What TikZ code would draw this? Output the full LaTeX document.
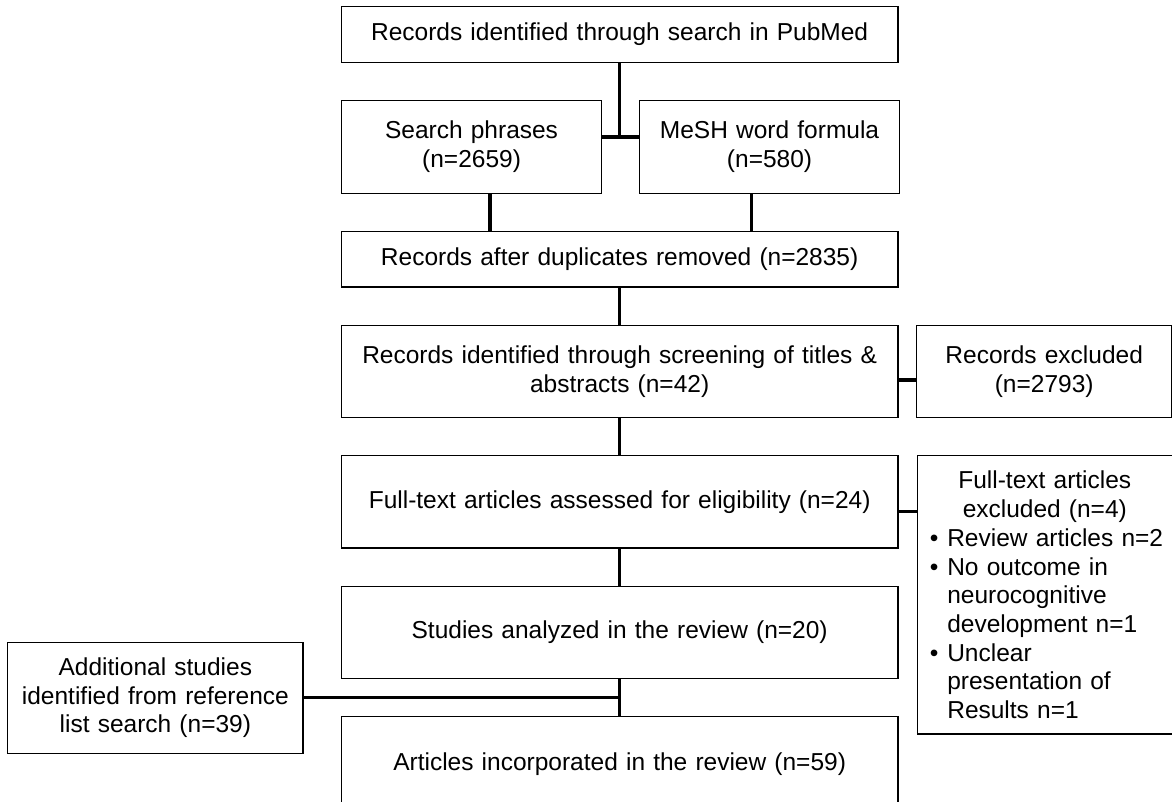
\documentclass[tikz,border=0pt]{standalone}
\usepackage{fontspec}
\setmainfont{Liberation Sans}
\usetikzlibrary{positioning, calc}

\newcommand{\bitem}[1]{\par\noindent\hangindent=22.5pt\hangafter=1\makebox[22.5pt][l]{\hspace{5pt}\textbullet}#1\par}

\begin{document}
\begin{tikzpicture}[x=1pt, y=-1pt, node distance=37pt,
    box/.style={draw, line width=1.3pt, align=center, inner xsep=8pt, inner ysep=4pt,
      font=\fontsize{24.5pt}{28.7pt}\selectfont},
    wide/.style={box, minimum width=556.7pt, text width=540pt},
    half/.style={box, minimum width=260.5pt, text width=244pt, minimum height=93.3pt},
    side/.style={box, minimum width=255pt, text width=239pt},
    short/.style={minimum height=55.6pt},
    tall/.style={minimum height=92.3pt},
    link/.style={line width=3.5pt}]

\useasboundingbox (0,0) rectangle (1172,802);

\node[wide, short] (pubmed) at (619.65,34.5) {Records identified through search in PubMed};
\node[half, below=36.7pt of pubmed.south west, anchor=north west] (search) {Search phrases\\(n=2659)};
\node[half, right=36.2pt of search] (mesh) {MeSH word formula\\(n=580)};
\node[wide, short, below=36.4pt of search.south west, anchor=north west] (dup) {Records after duplicates removed (n=2835)};
\node[wide, tall, below=of dup] (screen) {Records identified through screening of titles \&\\abstracts (n=42)};
\node[side, tall, right=17.4pt of screen] (excl) {Records excluded\\(n=2793)};
\node[wide, tall, below=of screen] (ft) {Full-text articles assessed for eligibility (n=24)};
\node[side, right=18pt of ft.north east, anchor=north west, minimum height=278.3pt,
      align=left, inner xsep=7.5pt, text width=240pt] (ftexcl) {%
  {\centering Full-text articles\\excluded (n=4)\par}
  \bitem{Review articles n=2}
  \bitem{No outcome in\newline neurocognitive\newline development n=1}
  \bitem{Unclear\newline presentation of\newline Results n=1}};
\node[wide, tall, below=of ft] (studies) {Studies analyzed in the review (n=20)};
\node[wide, below=36.7pt of studies, minimum height=95.4pt] (articles) {Articles incorporated in the review (n=59)};

\coordinate (j3) at ($(studies.south)!.5!(articles.north)$);
\coordinate (j3w) at (studies.west |- j3);
\node[box, left=37pt of j3w, minimum width=295.3pt, text width=279pt, minimum height=111pt] (addl)
  {Additional studies\\identified from reference\\list search (n=39)};

\coordinate (j1) at ([yshift=9.7pt]search.east);
\coordinate (s1) at ([xshift=18.5pt]search.south);
\coordinate (m1) at ([xshift=-18.2pt]mesh.south);
\coordinate (j2) at ([yshift=-8.7pt]screen.east);
\coordinate (j4) at ([yshift=-9.7pt]ft.east);

\draw[link] (pubmed) -- (pubmed |- j1);
\draw[link] (j1) -- (j1 -| mesh.west);
\draw[link] (s1) -- (s1 |- dup.north);
\draw[link] (m1) -- (m1 |- dup.north);
\draw[link] (dup) -- (screen);
\draw[link] (j2) -- (j2 -| excl.west);
\draw[link] (screen) -- (ft);
\draw[link] (j4) -- (j4 -| ftexcl.west);
\draw[link] (ft) -- (studies);
\draw[link] (studies) -- (articles);
\draw[link] (addl) -- (j3);
\end{tikzpicture}
\end{document}
